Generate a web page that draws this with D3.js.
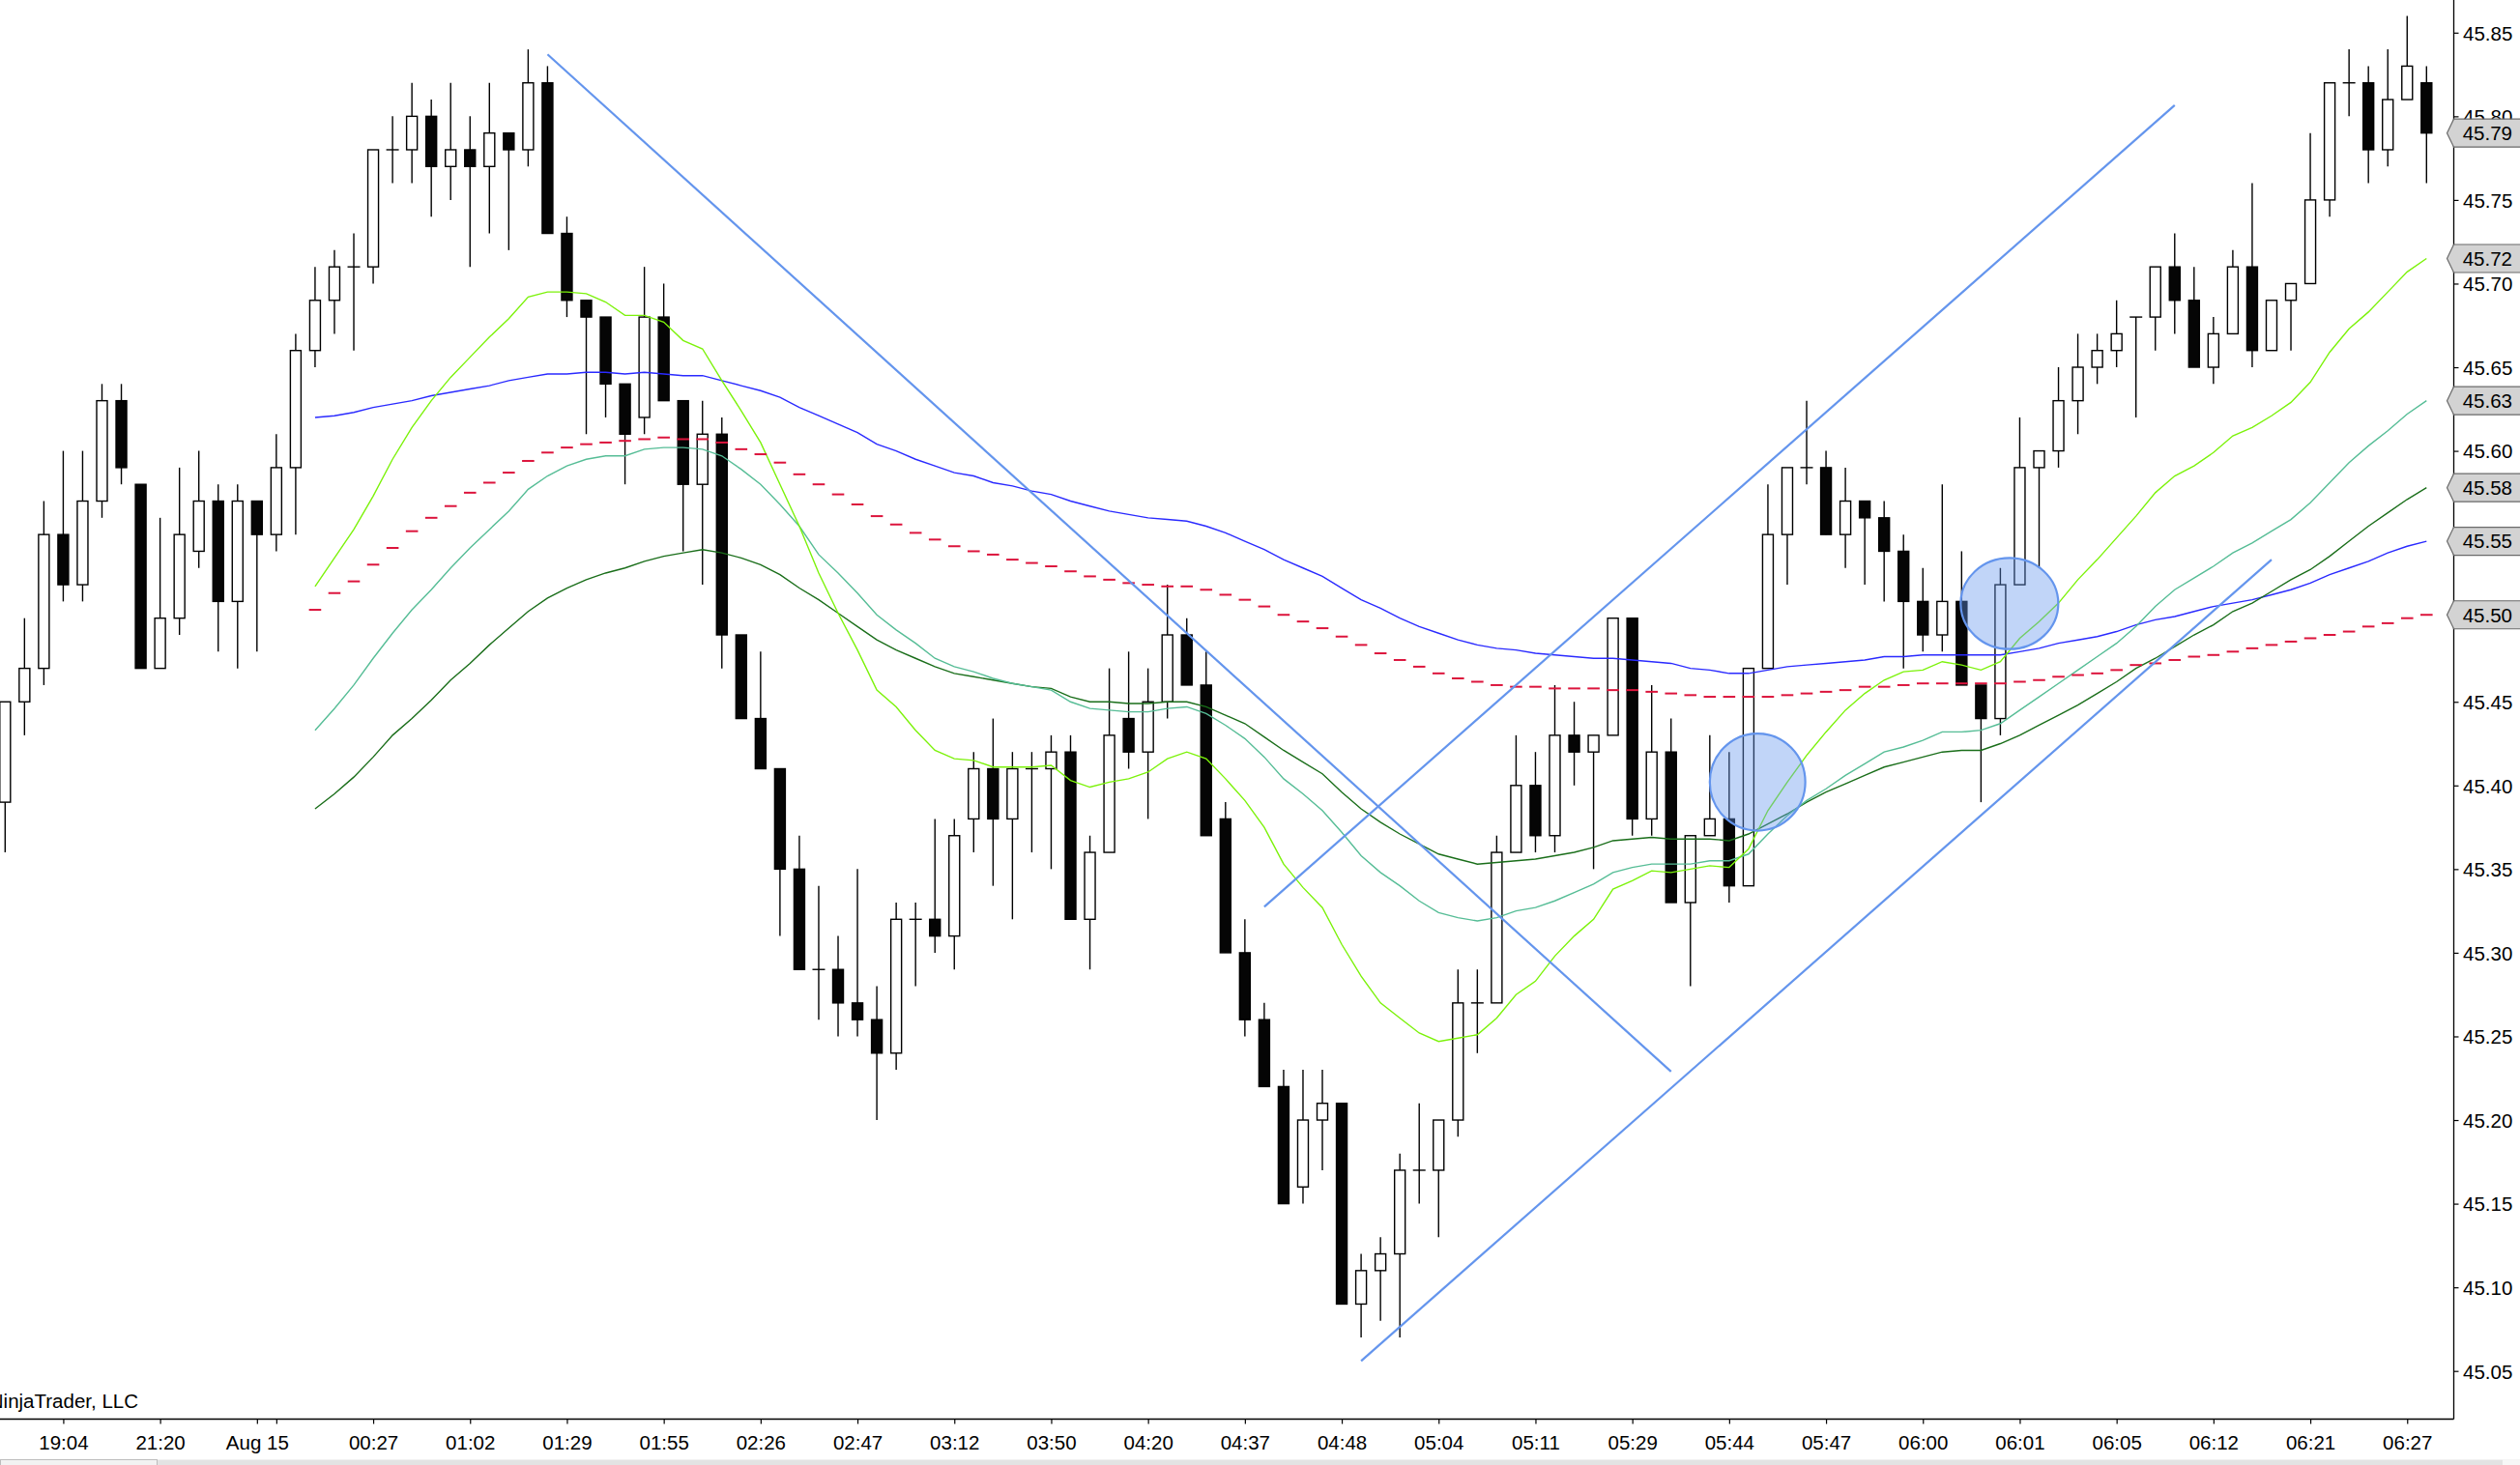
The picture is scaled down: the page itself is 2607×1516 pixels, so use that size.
<!DOCTYPE html>
<html><head><meta charset="utf-8">
<script src="https://cdn.jsdelivr.net/npm/d3@7"></script>
<style>html,body{margin:0;padding:0;background:#fff;overflow:hidden}</style>
</head><body><svg id="c" width="2607" height="1516"></svg>
<script>
// ---- candle data (bar index 0..125) ----
const opens = [45.39,45.45,45.47,45.55,45.52,45.57,45.63,45.58,45.47,45.50,
45.54,45.57,45.51,45.57,45.55,45.59,45.66,45.69,45.71,45.71,
45.78,45.78,45.80,45.77,45.78,45.77,45.79,45.78,45.82,45.73,
45.69,45.68,45.64,45.62,45.68,45.63,45.58,45.61,45.49,45.44,
45.41,45.35,45.29,45.29,45.27,45.26,45.24,45.32,45.32,45.31,
45.38,45.41,45.38,45.41,45.41,45.42,45.32,45.36,45.44,45.42,
45.45,45.49,45.46,45.38,45.30,45.26,45.22,45.16,45.20,45.21,
45.09,45.11,45.12,45.17,45.17,45.20,45.27,45.27,45.36,45.40,
45.37,45.43,45.42,45.43,45.50,45.38,45.42,45.33,45.37,45.38,
45.34,45.47,45.55,45.59,45.59,45.55,45.57,45.56,45.54,45.51,
45.49,45.51,45.46,45.44,45.52,45.59,45.60,45.63,45.65,45.66,
45.68,45.68,45.71,45.69,45.65,45.67,45.71,45.66,45.69,45.70,
45.75,45.82,45.82,45.78,45.81,45.82];
const highs = [45.45,45.50,45.57,45.60,45.60,45.64,45.64,45.58,45.56,45.59,
45.60,45.58,45.58,45.57,45.61,45.67,45.71,45.72,45.73,45.78,
45.80,45.82,45.81,45.82,45.80,45.82,45.79,45.84,45.83,45.74,
45.69,45.68,45.64,45.71,45.70,45.63,45.63,45.62,45.49,45.48,
45.41,45.37,45.34,45.31,45.35,45.28,45.33,45.33,45.38,45.38,
45.42,45.44,45.42,45.42,45.43,45.43,45.37,45.47,45.48,45.47,
45.52,45.50,45.48,45.39,45.32,45.27,45.23,45.23,45.23,45.21,
45.12,45.13,45.18,45.21,45.20,45.29,45.29,45.37,45.43,45.42,
45.46,45.45,45.43,45.50,45.50,45.46,45.44,45.37,45.43,45.42,
45.47,45.58,45.59,45.63,45.60,45.59,45.57,45.57,45.55,45.53,
45.58,45.54,45.46,45.53,45.62,45.60,45.65,45.67,45.67,45.69,
45.68,45.71,45.73,45.71,45.68,45.72,45.76,45.69,45.70,45.79,
45.82,45.84,45.83,45.84,45.86,45.83];
const lows = [45.36,45.43,45.46,45.51,45.51,45.56,45.58,45.47,45.47,45.49,
45.53,45.48,45.47,45.48,45.54,45.55,45.65,45.67,45.66,45.70,
45.76,45.76,45.74,45.75,45.71,45.73,45.72,45.77,45.73,45.68,
45.61,45.62,45.58,45.61,45.63,45.54,45.52,45.47,45.44,45.41,
45.31,45.29,45.26,45.25,45.25,45.20,45.23,45.28,45.30,45.29,
45.36,45.34,45.32,45.36,45.35,45.32,45.29,45.36,45.41,45.38,
45.44,45.46,45.37,45.30,45.25,45.22,45.15,45.15,45.17,45.09,
45.07,45.08,45.07,45.15,45.13,45.19,45.24,45.27,45.36,45.36,
45.36,45.40,45.35,45.43,45.37,45.37,45.33,45.28,45.37,45.33,
45.34,45.47,45.52,45.58,45.55,45.53,45.52,45.51,45.47,45.48,
45.48,45.46,45.39,45.43,45.52,45.53,45.59,45.61,45.64,45.65,
45.62,45.66,45.67,45.65,45.64,45.67,45.65,45.66,45.66,45.70,
45.74,45.80,45.76,45.77,45.81,45.76];
const closes = [45.45,45.47,45.55,45.52,45.57,45.63,45.59,45.47,45.50,45.55,
45.57,45.51,45.57,45.55,45.59,45.66,45.69,45.71,45.71,45.78,
45.78,45.80,45.77,45.78,45.77,45.79,45.78,45.82,45.73,45.69,
45.68,45.64,45.61,45.68,45.63,45.58,45.61,45.49,45.44,45.41,
45.35,45.29,45.29,45.27,45.26,45.24,45.32,45.32,45.31,45.37,
45.41,45.38,45.41,45.41,45.42,45.32,45.36,45.43,45.42,45.45,
45.49,45.46,45.37,45.30,45.26,45.22,45.15,45.20,45.21,45.09,
45.11,45.12,45.17,45.17,45.20,45.27,45.27,45.36,45.40,45.37,
45.43,45.42,45.43,45.50,45.38,45.42,45.33,45.37,45.38,45.34,
45.47,45.55,45.59,45.59,45.55,45.57,45.56,45.54,45.51,45.49,
45.51,45.46,45.44,45.52,45.59,45.60,45.63,45.65,45.66,45.67,
45.68,45.71,45.69,45.65,45.67,45.71,45.66,45.69,45.70,45.75,
45.82,45.82,45.78,45.81,45.83,45.79];

// ---- indicator series, first value at bar 16 ----
const indStart = 16;
const fastMA = [45.519,45.536,45.553,45.573,45.595,45.614,45.630,45.644,45.656,45.668,
45.679,45.692,45.695,45.695,45.694,45.689,45.681,45.681,45.677,45.666,
45.661,45.642,45.624,45.605,45.580,45.555,45.527,45.503,45.481,45.457,
45.447,45.433,45.421,45.416,45.415,45.411,45.411,45.411,45.412,45.403,
45.399,45.402,45.404,45.408,45.416,45.420,45.416,45.404,45.391,45.375,
45.353,45.339,45.327,45.305,45.286,45.270,45.261,45.252,45.247,45.249,
45.251,45.261,45.275,45.283,45.298,45.310,45.320,45.338,45.343,45.349,
45.348,45.350,45.352,45.351,45.362,45.385,45.402,45.418,45.432,45.445,
45.455,45.463,45.468,45.469,45.474,45.472,45.469,45.474,45.488,45.498,
45.509,45.523,45.535,45.548,45.561,45.575,45.585,45.591,45.599,45.609,
45.614,45.621,45.629,45.641,45.659,45.673,45.683,45.695,45.707,45.715];
const midMA = [45.433,45.446,45.460,45.476,45.491,45.505,45.517,45.530,45.542,45.553,
45.564,45.577,45.585,45.591,45.595,45.597,45.597,45.601,45.602,45.602,
45.601,45.597,45.589,45.580,45.568,45.555,45.538,45.527,45.515,45.502,
45.493,45.485,45.476,45.471,45.468,45.464,45.461,45.459,45.457,45.450,
45.446,45.445,45.444,45.444,45.446,45.447,45.443,45.436,45.428,45.417,
45.404,45.395,45.385,45.372,45.358,45.348,45.340,45.331,45.324,45.321,
45.319,45.321,45.325,45.327,45.331,45.336,45.341,45.348,45.351,45.353,
45.353,45.353,45.355,45.355,45.359,45.371,45.382,45.391,45.398,45.406,
45.413,45.420,45.423,45.427,45.432,45.432,45.433,45.437,45.445,45.453,
45.461,45.469,45.477,45.485,45.495,45.507,45.517,45.524,45.531,45.539,
45.545,45.552,45.559,45.569,45.581,45.593,45.603,45.612,45.622,45.630];
const slowMA = [45.386,45.395,45.405,45.417,45.430,45.440,45.451,45.463,45.473,45.484,
45.494,45.504,45.512,45.518,45.523,45.527,45.530,45.534,45.537,45.539,
45.541,45.539,45.536,45.532,45.526,45.518,45.511,45.503,45.495,45.487,
45.481,45.476,45.471,45.467,45.465,45.463,45.461,45.459,45.458,45.453,
45.450,45.450,45.449,45.449,45.450,45.450,45.447,45.442,45.437,45.429,
45.421,45.414,45.407,45.396,45.386,45.378,45.371,45.365,45.359,45.356,
45.353,45.354,45.355,45.356,45.358,45.360,45.363,45.367,45.368,45.369,
45.368,45.368,45.368,45.367,45.371,45.377,45.383,45.390,45.396,45.401,
45.406,45.411,45.414,45.417,45.420,45.421,45.421,45.425,45.430,45.436,
45.442,45.448,45.455,45.462,45.470,45.476,45.483,45.490,45.496,45.504,
45.509,45.516,45.523,45.529,45.537,45.546,45.555,45.563,45.571,45.578];
const blueMA = [45.620,45.621,45.623,45.626,45.628,45.630,45.633,45.635,45.637,45.639,
45.642,45.644,45.646,45.646,45.647,45.647,45.646,45.647,45.646,45.645,
45.645,45.642,45.639,45.636,45.632,45.626,45.621,45.616,45.611,45.604,
45.600,45.595,45.591,45.587,45.585,45.581,45.579,45.576,45.574,45.570,
45.567,45.564,45.562,45.560,45.559,45.558,45.555,45.551,45.546,45.541,
45.535,45.530,45.525,45.518,45.511,45.506,45.500,45.495,45.491,45.487,
45.484,45.482,45.481,45.479,45.478,45.477,45.476,45.476,45.475,45.474,
45.473,45.470,45.469,45.467,45.467,45.469,45.471,45.472,45.473,45.474,
45.475,45.477,45.477,45.478,45.478,45.478,45.478,45.478,45.480,45.482,
45.485,45.487,45.489,45.492,45.496,45.499,45.501,45.504,45.507,45.509,
45.511,45.514,45.517,45.521,45.526,45.530,45.534,45.539,45.543,45.546];
const redMA = [45.505,45.515,45.522,45.532,45.542,45.552,45.560,45.567,45.575,45.581,
45.587,45.594,45.599,45.602,45.604,45.605,45.606,45.607,45.608,45.607,
45.607,45.605,45.601,45.598,45.593,45.586,45.580,45.574,45.568,45.561,
45.556,45.551,45.547,45.543,45.540,45.538,45.535,45.533,45.531,45.528,
45.525,45.523,45.521,45.520,45.519,45.519,45.517,45.514,45.511,45.507,
45.502,45.498,45.494,45.489,45.484,45.479,45.475,45.471,45.467,45.464,
45.462,45.460,45.459,45.459,45.458,45.458,45.458,45.457,45.457,45.456,
45.455,45.454,45.453,45.453,45.453,45.453,45.454,45.455,45.456,45.457,
45.459,45.459,45.460,45.461,45.461,45.461,45.461,45.461,45.462,45.463,
45.465,45.466,45.467,45.469,45.472,45.473,45.475,45.477,45.478,45.480,
45.482,45.484,45.486,45.488,45.490,45.492,45.495,45.497,45.500,45.502];

// ---- axis ticks ----
const timeTickBars = [3,8,13,14,19,24,29,34,39,44,49,54,59,64,69,74,79,84,89,94,99,104,109,114,119,124];
const timeTickLabels = ["19:04","21:20","Aug 15","","00:27","01:02","01:29","01:55","02:26","02:47","03:12","03:50","04:20","04:37","04:48","05:04","05:11","05:29","05:44","05:47","06:00","06:01","06:05","06:12","06:21","06:27"];
const priceTicks = [45.05,45.10,45.15,45.20,45.25,45.30,45.35,45.40,45.45,45.50,45.55,45.60,45.65,45.70,45.75,45.80,45.85];

// ---- drawing objects (bar index, price) ----
const trendLines = [
  {b1:28, p1:45.837, b2:86, p2:45.229},
  {b1:65, p1:45.3275, b2:112, p2:45.8066},
  {b1:70, p1:45.056, b2:117, p2:45.535}
];
const ellipses = [
  {b1:88.0, b2:92.93, pTop:45.431, pBot:45.373},
  {b1:100.95, b2:105.99, pTop:45.536, pBot:45.4815}
];

// ---- layout ----
const W = 2607, H = 1516;
const plotRight = 2538, plotBottom = 1468;
const FONT = "'Liberation Sans', Arial, Helvetica, sans-serif";
const FS = 20.5;

const svg = d3.select("#c");
svg.append("rect").attr("width", W).attr("height", H).attr("fill", "#fff");

const x = d3.scaleLinear().domain([0, 125]).range([5.3, 2510.3]);
const y = d3.scaleLinear().domain([45.05, 45.85]).range([1418.7, 33.8]);

svg.append("defs").append("clipPath").attr("id", "plotclip")
  .append("rect").attr("x", 0).attr("y", 0).attr("width", plotRight).attr("height", plotBottom);

const plot = svg.append("g").attr("clip-path", "url(#plotclip)");

// candles
const bars = d3.range(opens.length).map(i => ({i, o: opens[i], h: highs[i], l: lows[i], c: closes[i]}));
const cg = plot.append("g");
cg.selectAll("line.wick").data(bars).join("line").attr("class", "wick")
  .attr("x1", d => x(d.i)).attr("x2", d => x(d.i))
  .attr("y1", d => y(d.h)).attr("y2", d => y(d.l))
  .attr("stroke", "#000").attr("stroke-width", 1.4);
const bodyW = 11;
cg.selectAll("rect.body").data(bars.filter(d => d.o !== d.c)).join("rect").attr("class", "body")
  .attr("x", d => x(d.i) - bodyW / 2)
  .attr("width", bodyW)
  .attr("y", d => y(Math.max(d.o, d.c)))
  .attr("height", d => Math.abs(y(d.o) - y(d.c)))
  .attr("fill", d => d.c > d.o ? "#fff" : "#050505")
  .attr("stroke", "#000").attr("stroke-width", 1.4);
cg.selectAll("line.doji").data(bars.filter(d => d.o === d.c)).join("line").attr("class", "doji")
  .attr("x1", d => x(d.i) - 6.5).attr("x2", d => x(d.i) + 6.5)
  .attr("y1", d => y(d.c)).attr("y2", d => y(d.c))
  .attr("stroke", "#000").attr("stroke-width", 1.4);

// indicator lines
const lineGen = d3.line().x(d => x(d.i)).y(d => y(d.v));
function series(arr) { return arr.map((v, k) => ({i: k + indStart, v})); }
const lineSeries = [
  {data: blueMA, color: "#2a2aff"},
  {data: slowMA, color: "#1a6e1a"},
  {data: midMA, color: "#56bd96"},
  {data: fastMA, color: "#7cf20a"}
];
lineSeries.forEach(s => {
  plot.append("path").datum(series(s.data)).attr("d", lineGen)
    .attr("fill", "none").attr("stroke", s.color).attr("stroke-width", 1.4);
});
// red hash plot
plot.append("g").selectAll("line").data(series(redMA)).join("line")
  .attr("x1", d => x(d.i) - 6.3).attr("x2", d => x(d.i) + 6.3)
  .attr("y1", d => y(d.v)).attr("y2", d => y(d.v))
  .attr("stroke", "#dc143c").attr("stroke-width", 2);

// drawing objects
plot.append("g").selectAll("line").data(trendLines).join("line")
  .attr("x1", d => x(d.b1)).attr("y1", d => y(d.p1))
  .attr("x2", d => x(d.b2)).attr("y2", d => y(d.p2))
  .attr("stroke", "#6495ed").attr("stroke-width", 2.2);
plot.append("g").selectAll("ellipse").data(ellipses).join("ellipse")
  .attr("cx", d => (x(d.b1) + x(d.b2)) / 2)
  .attr("cy", d => (y(d.pTop) + y(d.pBot)) / 2)
  .attr("rx", d => (x(d.b2) - x(d.b1)) / 2)
  .attr("ry", d => (y(d.pBot) - y(d.pTop)) / 2)
  .attr("fill", "rgba(100,149,237,0.4)")
  .attr("stroke", "#6495ed").attr("stroke-width", 2.2);

// axes frame
svg.append("line").attr("x1", plotRight + 0.5).attr("x2", plotRight + 0.5).attr("y1", 0).attr("y2", plotBottom + 0.5)
  .attr("stroke", "#000").attr("stroke-width", 1.3);
svg.append("line").attr("x1", 0).attr("x2", plotRight + 0.5).attr("y1", plotBottom + 0.5).attr("y2", plotBottom + 0.5)
  .attr("stroke", "#000").attr("stroke-width", 1.3);

// last-value markers on the price axis
const markers = [
  {v: redMA[redMA.length - 1]},
  {v: blueMA[blueMA.length - 1]},
  {v: slowMA[slowMA.length - 1]},
  {v: midMA[midMA.length - 1]},
  {v: fastMA[fastMA.length - 1]},
  {v: closes[closes.length - 1]}
];
// tick labels that sit fully under a marker are not visible in the reference
const hiddenTick = t => markers.some(m => Math.abs(m.v - t) < 0.008);

// price axis
const yAxis = d3.axisRight(y).tickValues(priceTicks).tickSize(5).tickSizeOuter(0).tickPadding(4.5)
  .tickFormat(d => hiddenTick(d) ? "" : d3.format(".2f")(d));
const yg = svg.append("g").attr("transform", `translate(${plotRight + 0.5},0)`).call(yAxis);
yg.select(".domain").remove();
yg.selectAll("line").attr("stroke", "#000").attr("stroke-width", 1.2);
yg.selectAll("text").attr("font-family", FONT).attr("font-size", FS).attr("fill", "#000").attr("dy", "0.36em");

// time axis
const xAxis = d3.axisBottom(x).tickValues(timeTickBars).tickSize(5).tickSizeOuter(0).tickPadding(12)
  .tickFormat((d, k) => timeTickLabels[k]);
const xg = svg.append("g").attr("transform", `translate(0,${plotBottom + 0.5})`).call(xAxis);
xg.select(".domain").remove();
xg.selectAll("line").attr("stroke", "#000").attr("stroke-width", 1.2);
xg.selectAll("text").attr("font-family", FONT).attr("font-size", FS).attr("fill", "#000");

const mg = svg.append("g");
markers.forEach(m => {
  const cy = y(m.v);
  const tip = plotRight - 6.5, bx = plotRight + 0.5, h2 = 14.5;
  mg.append("path")
    .attr("d", `M${tip},${cy} L${bx},${cy - h2} L${W + 2},${cy - h2} L${W + 2},${cy + h2} L${bx},${cy + h2} Z`)
    .attr("fill", "#d3d3d3").attr("stroke", "#6a6a6a").attr("stroke-width", 1.2);
  mg.append("text").attr("x", 2547.7).attr("y", cy).attr("dy", "0.36em")
    .attr("font-family", FONT).attr("font-size", FS).attr("fill", "#000")
    .text(d3.format(".2f")(m.v));
});

// copyright (cut off at the left edge)
svg.append("text").attr("x", 143).attr("y", 1456.7).attr("text-anchor", "end")
  .attr("font-family", FONT).attr("font-size", FS).attr("fill", "#000")
  .text("© NinjaTrader, LLC");

// scroll bar strip
svg.append("rect").attr("x", 0).attr("y", 1510.5).attr("width", W).attr("height", 6).attr("fill", "#e3e3e3");
svg.append("rect").attr("x", 0.5).attr("y", 1510.5).attr("width", 162).attr("height", 6).attr("fill", "#f2f2f2")
  .attr("stroke", "#bdbdbd").attr("stroke-width", 1);
svg.append("rect").attr("x", 2589).attr("y", 1510.5).attr("width", 18).attr("height", 6).attr("fill", "#f7f7f7");
</script>
</body></html>
